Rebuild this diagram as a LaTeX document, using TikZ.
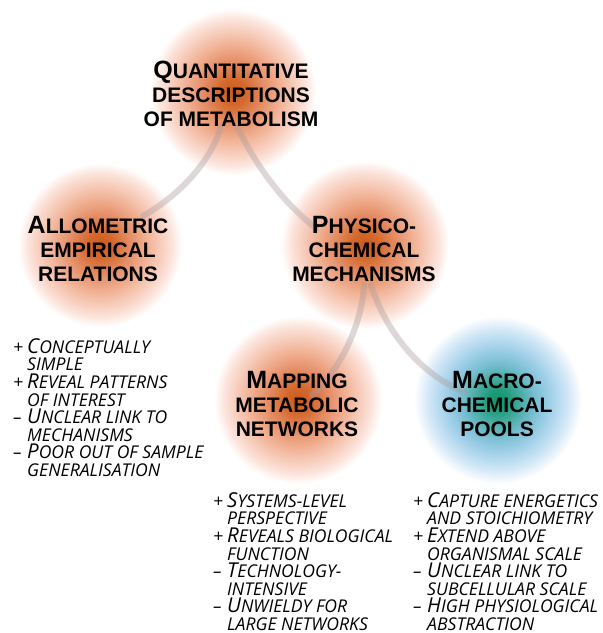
\documentclass[tikz,border=0pt]{standalone}
\usepackage{fontspec}
\newfontfamily\headf{Liberation Sans}
\newfontfamily\bodyf{Open Sans}
\definecolor{og0}{RGB}{205,90,28}
\definecolor{og1}{RGB}{212,105,45}
\definecolor{og2}{RGB}{228,140,100}
\definecolor{og3}{RGB}{240,175,145}
\definecolor{og4}{RGB}{247,205,188}
\definecolor{og5}{RGB}{252,228,220}
\definecolor{tg0}{RGB}{18,148,108}
\definecolor{tg1}{RGB}{30,155,120}
\definecolor{tg2}{RGB}{70,170,160}
\definecolor{tg3}{RGB}{120,190,210}
\definecolor{tg4}{RGB}{165,210,235}
\definecolor{tg5}{RGB}{212,232,247}
\definecolor{linkc}{RGB}{170,156,158}
\pgfdeclareradialshading{orangeglow}{\pgfpointorigin}{color(0bp)=(og0); color(4bp)=(og1); color(9bp)=(og2); color(14bp)=(og3); color(18.5bp)=(og4); color(22bp)=(og5); color(25bp)=(white); color(50bp)=(white)}
\pgfdeclareradialshading{tealglow}{\pgfpointorigin}{color(0bp)=(tg0); color(3bp)=(tg1); color(6.5bp)=(tg2); color(11bp)=(tg3); color(16bp)=(tg4); color(21bp)=(tg5); color(25bp)=(white); color(50bp)=(white)}
\newcommand\headsetup{\headf\bfseries\fontsize{21bp}{24bp}\selectfont\lineskiplimit=-30pt\relax}
\newcommand\bodysetup{\bodyf\itshape\fontsize{17.6bp}{17.6bp}\selectfont\lineskiplimit=-30pt\relax}
\newcommand\HB[1]{{\fontsize{25bp}{24bp}\selectfont #1}}
\newcommand\LB[1]{{\fontsize{20.5bp}{17.6bp}\selectfont #1}}
\newcommand\pl{\makebox[14bp][l]{+}}
\newcommand\mn{\makebox[14bp][l]{–}}
\newcommand\ind{\hspace*{14bp}}
\tikzset{
  glowo/.style={shading=orangeglow},
  glowt/.style={shading=tealglow},
  head/.style={font=\headsetup, align=center, inner sep=0pt},
  body/.style={font=\bodysetup, align=left, inner sep=0pt, anchor=north west},
  link/.style={draw=linkc, line width=6bp, opacity=0.4, line cap=round},
}
\begin{document}
\begin{tikzpicture}[x=1bp,y=-1bp]
\useasboundingbox (0,0) rectangle (603,633);
% glows
\shade[glowo] (233,92) circle[radius=83bp];
\shade[glowo] (100,245) circle[radius=82bp];
\shade[glowo] (365,245) circle[radius=84bp];
\shade[glowo] (298,400) circle[radius=84bp];
\shade[glowt] (498,400) circle[radius=84bp];
% connector end points
\coordinate (qa) at (221,126);
\coordinate (qb) at (237,126);
\coordinate (ae) at (143,216);
\coordinate (pe) at (316,228);
\coordinate (pa) at (364,285);
\coordinate (pb) at (371,285);
\coordinate (me) at (312,395);
\coordinate (ce) at (465,392);
% connectors
\draw[link] (qa) .. controls (212,160) and (180,195) .. (ae);
\draw[link] (qb) .. controls (255,165) and (285,205) .. (pe);
\draw[link] (pa) .. controls (362,325) and (340,370) .. (me);
\draw[link] (pb) .. controls (385,330) and (420,375) .. (ce);
% headings
\node[head] (quant) at (231,93.5) {\HB{Q}UANTITATIVE\\DESCRIPTIONS\\OF METABOLISM};
\node[head] (allo) at (98,249.5) {\HB{A}LLOMETRIC\\EMPIRICAL\\RELATIONS};
\node[head] (phys) at (364,249.5) {\HB{P}HYSICO-\\CHEMICAL\\MECHANISMS};
\node[head] (mapn) at (297,403.5) {\HB{M}APPING\\METABOLIC\\NETWORKS};
\node[head] (macro) at (497,403.5) {\HB{M}ACRO-\\CHEMICAL\\POOLS};
% lists
\node[body] (allolist) at (13,338.3) {\pl\LB{C}ONCEPTUALLY\\\ind SIMPLE\\\pl\LB{R}EVEAL PATTERNS\\\ind OF INTEREST\\\mn\LB{U}NCLEAR LINK TO\\\ind MECHANISMS\\\mn\LB{P}OOR OUT OF SAMPLE\\\ind GENERALISATION};
\node[body] (maplist) at (213,492.3) {\pl\LB{S}YSTEMS-LEVEL\\\ind PERSPECTIVE\\\pl\LB{R}EVEALS BIOLOGICAL\\\ind FUNCTION\\\mn\LB{T}ECHNOLOGY-\\\ind INTENSIVE\\\mn\LB{U}NWIELDY FOR\\\ind LARGE NETWORKS};
\node[body] (macrolist) at (413,492.3) {\pl\LB{C}APTURE ENERGETICS\\\ind AND STOICHIOMETRY\\\pl\LB{E}XTEND ABOVE\\\ind ORGANISMAL SCALE\\\mn\LB{U}NCLEAR LINK TO\\\ind SUBCELLULAR SCALE\\\mn\LB{H}IGH PHYSIOLOGICAL\\\ind ABSTRACTION};
\end{tikzpicture}
\end{document}
